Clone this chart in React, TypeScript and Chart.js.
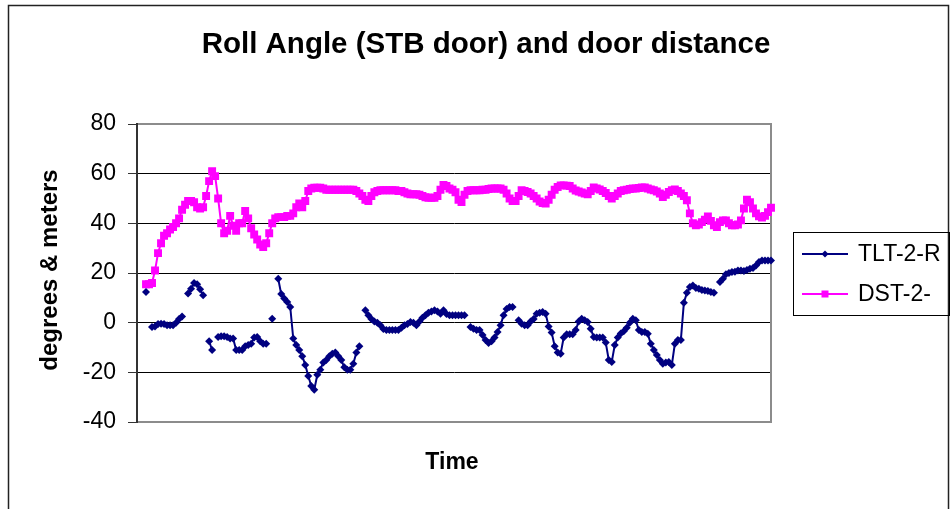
import React, { useEffect, useRef } from "react";
import { Chart, registerables } from "chart.js";

Chart.register(...registerables);

const TITLE = "Roll Angle (STB door) and door distance";
const Y_TITLE = "degrees & meters";
const X_TITLE = "Time";
const SERIES_NAMES = ["TLT-2-R", "DST-2-"];
const Y_MIN = -40;
const Y_MAX = 80;
const Y_STEP = 20;

// roll angle (degrees); null = no reading
const TLT: (number | null)[] = [
  null, null, null,
  12.3, null, -1.7, -1.5, -0.5, -0.4, -0.5, -1, -1, -1,
  0, 1.5, 2.5, null, 11.7, 13.7, 16, 15.5, 13.5, 11,
  null, -7.5, -11, null, -5.8, -5.5, -5.5, -5.8, -6.4, -6.4,
  -11, -11, -11, -9.5, -9, -8.5, -6, -5.8, -7.5, -8.5,
  -8.5, null, 1.6, null, 17.7, 11.5, 9.7, 8.3, 6.3, -6.4,
  -9, -11, -13.5, -17, -21.5, -25.5, -27, -21, -19, -16,
  -15, -13.5, -12.5, -12, -13.5, -15, -18, -19, -19, -16.5,
  -12, -9.5, null, 5, 3, 1.5, 0.5, 0, -1, -2.5,
  -3, -3, -3, -3, -3, -2, -1, -0.5, 0.3, 0,
  -1, 0.5, 2, 3, 4, 4.5, 5, 4.5, 3.6, 5,
  3.5, 3, 3, 3, 3, 3, 3, null, -1.7, -2.4,
  -3, -3, -5, -7, -8.2, -7.5, -6, -3.8, -1, 3,
  5.5, 6.3, 6.3, null, 1, -0.4, -1, -1, 0.5, 1.5,
  3.6, 4, 4.3, 3.6, -1.5, -4, -9.5, -12, -12.5, -6,
  -4.7, -4.7, -4.7, -3, 0.5, 1.6, 1, 0.3, -2.4, -5.8,
  -6, -6, -6, -8, -15, -15.8, -9, -6, -4.4, -3.5,
  -2, 0, 1.6, 1, -3, -3.8, -3.8, -4.5, -8.5, -11,
  -13, -15, -16.5, -16, -15.8, -17, -8.5, -7, -7, 8,
  12, 14.4, 15, 14, 13.7, 13.2, 13, 12.8, 12.3, 12,
  null, 16.4, 17.7, 19.5, 20, 20.4, 20.5, 21, 21, 20.8,
  21.2, 21.7, 22, 23, 24.4, 25, 25, 25, 25,
];

// door distance (meters)
const DST: (number | null)[] = [
  null, null, null,
  15.5, 15.5, 16, 21, 28, 32, 35, 36, 37.5, 38.5,
  40, 42, 45.5, 47.5, 49, 49, 48.5, 46.5, 46, 46.5,
  51, 57, 61, 59, 50, 40, 36, 37, 43, 39,
  37, 40, 40, 45, 42, 38, 35.5, 33.5, 31.5, 30.5,
  32, 36, 40, 42, 42.5, 42.5, 42.5, 43, 43, 44,
  46.5, 48, 46.5, 49, 53, 54, 54.3, 54.3, 54.3, 54,
  53.5, 53.5, 53.5, 53.5, 53.5, 53.5, 53.5, 53.5, 53.5, 53.5,
  53, 52, 51, 49.5, 49, 51, 52.5, 53, 53.3, 53.3,
  53.3, 53.3, 53.3, 53.3, 53, 53, 52.5, 52, 51.7, 51.7,
  51.7, 51.5, 51, 50.5, 50.3, 50.3, 50.3, 51, 53.5, 55.5,
  55, 54, 53.5, 52.5, 49.5, 48.6, 51.5, 53, 53.3, 53.3,
  53.3, 53.3, 53.5, 53.5, 53.8, 54, 54, 54, 54, 53.5,
  52, 50, 49, 49, 51, 53.3, 53, 52.6, 52, 51,
  50, 48.8, 48.2, 48, 49.5, 51.5, 53.5, 54.6, 55.3, 55.3,
  55.2, 55, 54, 53.2, 52.8, 52.4, 52, 51.7, 53, 54.4,
  54, 53.6, 53, 52.2, 51, 50, 51, 52, 53, 53.3,
  53.5, 53.8, 54, 54, 54.2, 54.4, 54.4, 54, 53.6, 53.3,
  52.8, 52, 50.6, 51.5, 52.6, 53.3, 53.6, 53, 52, 51,
  49.3, 44, 40, 39.2, 39.5, 40.5, 41.5, 42.8, 41, 39.2,
  38.5, 40.5, 41.2, 41.2, 40, 39.2, 39.2, 39.5, 41.2, 46,
  49.5, 48.5, 46, 44, 42.8, 42.3, 43, 44.5, 46.3,
];

const TIME_LABELS = TLT.map((_, i) => String(i));

const NAVY = "#000080";
const MAGENTA = "#FF00FF";
const FONT = '"Liberation Sans", Arial, Helvetica, sans-serif';

const decorPlugin = {
  id: "decor",
  beforeDraw(chart: any) {
    const { ctx, width, height } = chart;
    ctx.save();
    ctx.fillStyle = "#ffffff";
    ctx.fillRect(0, 0, width, height);
    ctx.strokeStyle = "#222222";
    ctx.lineWidth = 1.5;
    ctx.strokeRect(8.5, 5.5, 940, height + 20);
    ctx.restore();
  },
  beforeDatasetsDraw(chart: any) {
    const { ctx, chartArea } = chart;
    const { left, right, top, bottom } = chartArea;
    ctx.save();
    ctx.strokeStyle = "#8c8c8c";
    ctx.lineWidth = 2;
    ctx.beginPath();
    ctx.moveTo(left, top);
    ctx.lineTo(right, top);
    ctx.lineTo(right, bottom);
    ctx.lineTo(left, bottom);
    ctx.stroke();
    ctx.strokeStyle = "#333333";
    ctx.beginPath();
    ctx.moveTo(left, top - 1);
    ctx.lineTo(left, bottom + 1);
    ctx.stroke();
    ctx.restore();
  },
  afterDraw(chart: any) {
    const { ctx } = chart;
    ctx.save();
    ctx.fillStyle = "#000000";
    ctx.textAlign = "center";
    ctx.textBaseline = "middle";
    ctx.font = `bold 29.5px ${FONT}`;
    ctx.fillText(TITLE, 486, 45);
    ctx.font = `bold 23px ${FONT}`;
    ctx.fillText(X_TITLE, 452, 463);
    ctx.save();
    ctx.translate(50, 270);
    ctx.rotate(-Math.PI / 2);
    ctx.font = `bold 24px ${FONT}`;
    ctx.fillText(Y_TITLE, 0, 0);
    ctx.restore();

    // legend
    const lx = 793.5, ly = 232.5, lw = 156, lh = 83;
    ctx.strokeStyle = "#000000";
    ctx.lineWidth = 1;
    ctx.strokeRect(lx, ly, lw, lh);
    const rows = [254, 294];
    chart.data.datasets.forEach((ds: any, i: number) => {
      const y = rows[i];
      ctx.strokeStyle = ds.borderColor;
      ctx.lineWidth = 2;
      ctx.beginPath();
      ctx.moveTo(802, y);
      ctx.lineTo(848, y);
      ctx.stroke();
      ctx.fillStyle = ds.borderColor;
      if (i === 0) {
        ctx.beginPath();
        ctx.moveTo(825, y - 3.5);
        ctx.lineTo(828.5, y);
        ctx.lineTo(825, y + 3.5);
        ctx.lineTo(821.5, y);
        ctx.closePath();
        ctx.fill();
      } else {
        ctx.fillRect(821.5, y - 3.5, 7, 7);
      }
      ctx.fillStyle = "#000000";
      ctx.textAlign = "left";
      ctx.font = `23px ${FONT}`;
      ctx.fillText(ds.label, 858, y + 1);
    });
    ctx.restore();
  },
};

export default function App() {
  const ref = useRef<HTMLCanvasElement | null>(null);
  useEffect(() => {
    if (!ref.current) return;
    const chart = new Chart(ref.current, {
      type: "line",
      data: {
        labels: TIME_LABELS,
        datasets: [
          {
            label: SERIES_NAMES[0],
            data: TLT,
            borderColor: NAVY,
            backgroundColor: NAVY,
            borderWidth: 2,
            pointStyle: "rectRot",
            pointRadius: 4,
            pointBorderWidth: 0,
            pointBackgroundColor: NAVY,
            spanGaps: false,
            tension: 0,
          },
          {
            label: SERIES_NAMES[1],
            data: DST,
            borderColor: MAGENTA,
            backgroundColor: MAGENTA,
            borderWidth: 2,
            pointStyle: "rect",
            pointRadius: 5.6,
            pointBorderWidth: 0,
            pointBackgroundColor: MAGENTA,
            spanGaps: false,
            tension: 0,
          },
        ],
      },
      options: {
        responsive: false,
        animation: false,
        layout: { padding: { left: 0, right: 181, top: 124, bottom: 87 } },
        plugins: {
          legend: { display: false },
          title: { display: false },
          tooltip: { enabled: false },
        },
        scales: {
          x: {
            type: "category",
            display: false,
            offset: false,
          },
          y: {
            min: Y_MIN,
            max: Y_MAX,
            afterFit: (scale: any) => {
              scale.width = 137;
            },
            ticks: {
              stepSize: Y_STEP,
              color: "#000000",
              padding: 12,
              font: { family: FONT, size: 23 },
            },
            grid: {
              color: "#000000",
              lineWidth: 1,
              tickLength: 9,
              tickColor: "#333333",
              drawTicks: true,
            },
            border: { display: true, color: "#333333", width: 2 },
          },
        },
      },
      plugins: [decorPlugin],
    });
    return () => chart.destroy();
  }, []);
  return (
    <div style={{ position: "fixed", left: 0, top: 0, width: 952, height: 509, background: "#fff" }}>
      <canvas ref={ref} width={952} height={509} style={{ display: "block" }} />
    </div>
  );
}
